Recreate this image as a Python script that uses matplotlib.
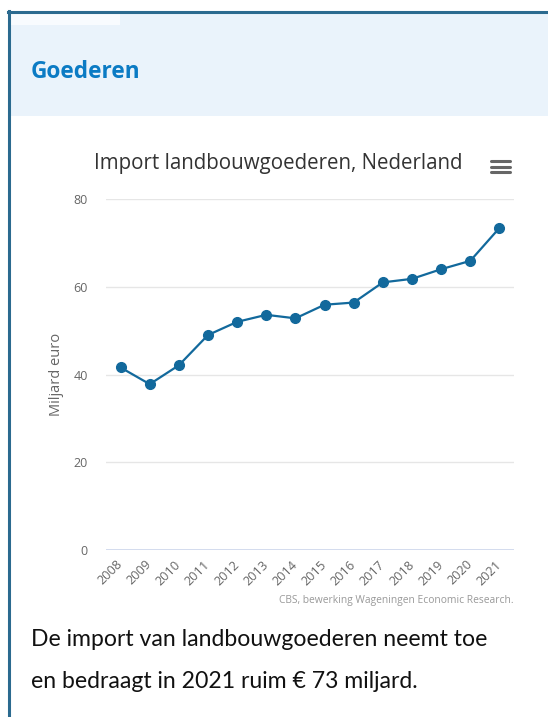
import matplotlib
matplotlib.use("Agg")
import matplotlib.pyplot as plt
from matplotlib.patches import Rectangle
from matplotlib.lines import Line2D

years = ["2008", "2009", "2010", "2011", "2012", "2013", "2014",
         "2015", "2016", "2017", "2018", "2019", "2020", "2021"]
values = [41.6, 37.8, 42.1, 49.0, 52.0, 53.6, 52.8,
          55.9, 56.4, 61.0, 61.8, 64.0, 65.9, 73.4]
y_ticks = [0, 20, 40, 60, 80]

title = "Import landbouwgoederen, Nederland"
y_label = "Miljard euro"
credits = "CBS, bewerking Wageningen Economic Research."
header = "Goederen"
caption = ["De import van landbouwgoederen neemt toe",
           "en bedraagt in 2021 ruim € 73 miljard."]

W, H = 548, 717
fig = plt.figure(figsize=(W / 100, H / 100), dpi=100)
fig.patch.set_facecolor("white")

def fx(px):
    return px / W

def fy(py):
    return 1 - py / H

# frame / header band
fig.patches.append(Rectangle((fx(10), fy(116)), fx(W - 10), (116 - 13) / H,
                             transform=fig.transFigure, facecolor="#eaf3fb",
                             edgecolor="none", zorder=0))
fig.patches.append(Rectangle((fx(10), fy(25)), fx(110), 12 / H,
                             transform=fig.transFigure, facecolor="#f8fbfe",
                             edgecolor="none", zorder=1))
fig.lines.append(Line2D([fx(9), fx(9)], [fy(11), 0], transform=fig.transFigure,
                        color="#2b6a8f", lw=2.2))
fig.lines.append(Line2D([fx(8), 1], [fy(12), fy(12)], transform=fig.transFigure,
                        color="#2b6a8f", lw=2.2))

fig.text(fx(31), fy(72), header, fontsize=16.3, fontweight="bold",
         color="#0b7bc4", family="Open Sans", va="center", ha="left")

# axes
ax = fig.add_axes([fx(106), fy(550), fx(514 - 106), (550 - 199) / H])
x = list(range(len(years)))
ax.plot(x, values, color="#12699c", lw=1.6, marker="o", markersize=7,
        zorder=3, clip_on=False)
ax.set_xlim(-0.5, len(years) - 0.5)
ax.set_ylim(0, 80)
ax.set_yticks(y_ticks)
ax.set_yticklabels([str(v) for v in y_ticks], fontsize=9, color="#666666",
                   family="Open Sans")
ax.set_xticks(x)
ax.set_xticklabels(years, rotation=45, ha="right", va="center",
                   rotation_mode="anchor", fontsize=9.2, color="#666666",
                   family="Open Sans")
ax.tick_params(axis="y", length=0, pad=13)
ax.tick_params(axis="x", length=0, pad=9)
for v in y_ticks[1:]:
    ax.axhline(v, color="#e6e6e6", lw=1, zorder=1)
ax.axhline(0, color="#ccd6eb", lw=1.2, zorder=1)
for s in ax.spines.values():
    s.set_visible(False)
ax.set_ylabel(y_label, fontsize=10.5, color="#666666", family="Open Sans",
              labelpad=12)
ax.yaxis.set_label_coords(fx(64 - 106) / fx(514 - 106), (550 - 374) / (550 - 199))

fig.text(fx(278), fy(163), title, fontsize=14.8, color="#333333",
         family="Open Sans", ha="center", va="center")

# hamburger icon
for yy in (161, 166.5, 172):
    fig.lines.append(Line2D([fx(491), fx(510)], [fy(yy), fy(yy)],
                            transform=fig.transFigure, color="#666666",
                            lw=2.2, solid_capstyle="round"))

fig.text(fx(514), fy(600), credits, fontsize=7.4, color="#999999",
         family="Open Sans", ha="right", va="center")

fig.text(fx(31), fy(640), caption[0], fontsize=16.6, color="#111111",
         family="Lato", ha="left", va="center")
fig.text(fx(31), fy(681), caption[1], fontsize=16.6, color="#111111",
         family="Lato", ha="left", va="center")

fig.savefig("out.png", dpi=100)
